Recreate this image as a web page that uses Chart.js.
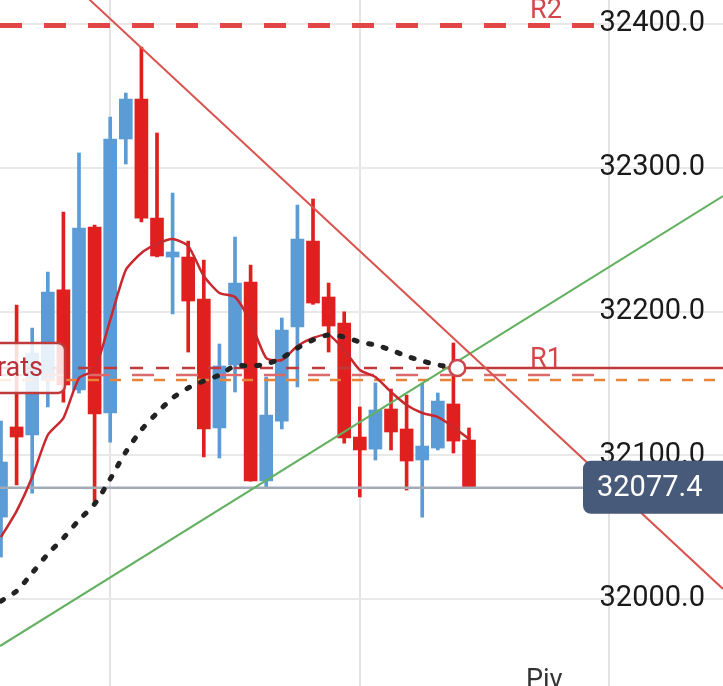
<!DOCTYPE html>
<html>
<head>
<meta charset="utf-8">
<script src="https://cdn.jsdelivr.net/npm/chart.js@4.4.1/dist/chart.umd.min.js"></script>
<style>
  html, body { margin: 0; padding: 0; background: #fff; overflow: hidden; }
  canvas { display: block; }
</style>
</head>
<body>
<canvas id="chart" width="723" height="686"></canvas>
<script>
// candles, one per bar index 0..30
const opens  = [32057.0, 32119.7, 32114.1, 32152.3, 32215.0, 32145.4, 32258.8, 32129.4, 32320.0, 32347.8,
                32265.0, 32237.9, 32237.9, 32208.7, 32119.0, 32162.8, 32220.5, 32082.1, 32123.8, 32189.2,
                32249.0, 32210.1, 32192.0, 32112.7, 32104.3, 32132.2, 32118.3, 32096.7, 32105.0, 32135.7, 32110.6];
const highs  = [32123.8, 32204.5, 32188.5, 32227.5, 32269.2, 32310.3, 32260.2, 32335.3, 32352.0, 32384.0,
                32324.2, 32282.4, 32249.0, 32235.8, 32177.4, 32251.8, 32232.3, 32154.4, 32195.5, 32274.1,
                32278.3, 32219.8, 32199.7, 32133.6, 32150.3, 32146.1, 32141.9, 32150.3, 32143.3, 32178.1, 32119.0];
const lows   = [32029.2, 32079.3, 32073.7, 32133.6, 32137.0, 32143.3, 32065.4, 32109.2, 32302.6, 32262.3,
                32238.0, 32198.3, 32171.8, 32098.8, 32098.1, 32144.0, 32082.0, 32077.9, 32118.3, 32147.5,
                32205.0, 32171.8, 32108.5, 32071.0, 32096.7, 32103.7, 32075.8, 32057.0, 32103.7, 32101.6, 32077.4];
const closes = [32095.3, 32112.7, 32171.1, 32213.6, 32148.9, 32258.1, 32128.7, 32320.0, 32347.8, 32265.0,
                32238.6, 32241.4, 32207.3, 32118.3, 32162.1, 32219.8, 32082.1, 32128.0, 32187.1, 32250.4,
                32205.9, 32189.9, 32112.0, 32103.7, 32131.5, 32116.2, 32096.0, 32106.4, 32137.7, 32109.9, 32077.4];

// moving averages
const maRed  = [32043.1, 32061.2, 32084.9, 32114.1, 32125.9, 32153.7, 32159.3, 32194.1, 32228.9, 32240.7,
                32247.0, 32250.4, 32245.6, 32224.7, 32212.9, 32210.1, 32192.7, 32167.7, 32166.3, 32176.0,
                32181.6, 32183.7, 32173.2, 32159.3, 32154.4, 32144.0, 32135.0, 32129.4, 32126.6, 32119.7, 32111.3];
const maDots = [31998.6, 32005.6, 32018.1, 32031.3, 32042.4, 32055.0, 32066.1, 32083.5, 32102.3, 32117.6,
                32129.4, 32139.8, 32146.8, 32151.7, 32155.8, 32162.1, 32162.1, 32163.5, 32167.7, 32174.6,
                32180.2, 32183.7, 32182.3, 32178.8, 32176.7, 32173.2, 32169.0, 32165.6, 32162.8, 32161.4];

// levels and trend lines
const lastPrice = 32077.4;
const levelR2 = 32399.0;
const levelR1 = 32160.7;
const levelPink = 32155.8;
const levelOrange = 32152.3;
const levelPiv = 31933.2;
const markerX = 29.25;
const trendRed = [32474.9, 32007.0];
const trendGreen = [31967.3, 32280.3];

const yTicks = [32000, 32100, 32200, 32300, 32400];
const xGrid = [7, 23, 39];
const xMin = -0.064, xMax = 46.28, yMin = 31939.5, yMax = 32416.7;

const BLUE = '#5b9bd6', RED = '#e0201e';
const candleColor = closes.map((c, i) => c >= opens[i] ? BLUE : RED);

const overlay = {
  id: 'overlay',
  afterDatasetsDraw(chart) {
    const { ctx, scales: { x, y } } = chart;
    ctx.save();

    // "rats" callout
    const ly = y.getPixelForValue(levelR1);
    ctx.beginPath();
    ctx.roundRect(-12, ly - 25, 77, 50, 7);
    ctx.fillStyle = 'rgba(255,255,255,0.85)';
    ctx.fill();
    ctx.lineWidth = 2.5;
    ctx.strokeStyle = '#c0393b';
    ctx.stroke();
    ctx.font = '27px Roboto';
    ctx.fillStyle = '#b8303a';
    ctx.textAlign = 'right';
    ctx.textBaseline = 'middle';
    ctx.fillText('rats', 43, ly + 1);

    // level names
    ctx.textAlign = 'left';
    ctx.textBaseline = 'alphabetic';
    ctx.fillStyle = '#d4464a';
    ctx.fillText('R2', 530, y.getPixelForValue(levelR2) - 7);
    ctx.fillText('R1', 530, y.getPixelForValue(levelR1) - 1);
    ctx.fillStyle = '#333';
    ctx.fillText('Piv', 526, y.getPixelForValue(levelPiv) - 7);

    // last price tag
    const py = y.getPixelForValue(lastPrice);
    ctx.beginPath();
    ctx.roundRect(583, py - 27, 150, 53, 8);
    ctx.fillStyle = '#475a7a';
    ctx.fill();
    ctx.font = '29px Roboto';
    ctx.fillStyle = '#fff';
    ctx.textBaseline = 'middle';
    ctx.fillText(lastPrice.toFixed(1), 597, py + 1);

    ctx.restore();
  }
};

const flat = (v, x0 = xMin, x1 = xMax) => [{ x: x0, y: v }, { x: x1, y: v }];

new Chart(document.getElementById('chart'), {
  type: 'bar',
  data: {
    datasets: [
      { type: 'line', order: 1, data: [{ x: markerX, y: levelR1 }], showLine: false,
        pointRadius: 8, pointBackgroundColor: '#fff', pointBorderColor: '#c9474a', pointBorderWidth: 2.5 },
      { type: 'line', order: 2, data: maDots.map((v, i) => ({ x: i, y: v })).concat([{ x: markerX, y: levelR1 }]),
        borderColor: '#222', borderWidth: 5, borderDash: [3, 12], borderCapStyle: 'round',
        tension: 0.3, pointRadius: 0 },
      { type: 'line', order: 3, data: maRed.map((v, i) => ({ x: i, y: v })),
        borderColor: '#c8282e', borderWidth: 2.5, tension: 0.2, pointRadius: 0 },
      { type: 'line', order: 4, data: [{ x: xMin, y: trendRed[0] }, { x: xMax, y: trendRed[1] }],
        borderColor: '#d9544f', borderWidth: 2, pointRadius: 0 },
      { type: 'line', order: 4, data: [{ x: xMin, y: trendGreen[0] }, { x: xMax, y: trendGreen[1] }],
        borderColor: '#63b160', borderWidth: 2, pointRadius: 0 },
      { type: 'line', order: 5, data: [{ x: xMin, y: levelR1 }, { x: markerX, y: levelR1 }, { x: xMax, y: levelR1 }],
        borderColor: '#c0393b', borderWidth: 2.5, pointRadius: 0,
        segment: { borderDash: c => c.p0DataIndex === 0 ? [13, 13] : [] } },
      { type: 'line', order: 5, data: flat(levelPink, xMin, 38.2),
        borderColor: '#dc6a6b', borderWidth: 2.5, borderDash: [22, 22], pointRadius: 0 },
      { type: 'line', order: 5, data: flat(levelOrange),
        borderColor: '#e8833a', borderWidth: 2.5, borderDash: [11, 11], pointRadius: 0 },
      { type: 'line', order: 5, data: flat(levelR2, xMin, 38.08),
        borderColor: '#e04646', borderWidth: 5, borderDash: [22, 22], pointRadius: 0 },
      { type: 'line', order: 6, data: flat(lastPrice),
        borderColor: '#a3abb7', borderWidth: 2.5, pointRadius: 0 },
      { order: 10, grouped: false, barThickness: 13, borderWidth: 0,
        data: opens.map((o, i) => ({ x: i, y: [o, closes[i]] })), backgroundColor: candleColor },
      { order: 11, grouped: false, barThickness: 3, borderWidth: 0,
        data: highs.map((h, i) => ({ x: i, y: [lows[i], h] })), backgroundColor: candleColor }
    ]
  },
  options: {
    responsive: false,
    animation: false,
    layout: { padding: 0, autoPadding: false },
    plugins: { legend: { display: false }, tooltip: { enabled: false } },
    scales: {
      x: {
        type: 'linear', min: xMin, max: xMax, offset: false,
        grid: { color: '#e4e4e4', lineWidth: 2, drawTicks: false, offset: false },
        border: { display: false },
        ticks: { display: false },
        afterBuildTicks: s => { s.ticks = xGrid.map(v => ({ value: v })); },
        afterFit: s => { s.height = 0; s.paddingLeft = 0; s.paddingRight = 0; s.paddingTop = 0; s.paddingBottom = 0; }
      },
      y: {
        position: 'right', min: yMin, max: yMax,
        grid: { color: '#e9e9e9', lineWidth: 2, drawTicks: false },
        border: { display: false },
        ticks: { mirror: true, padding: -18, color: '#1a1a1a', font: { family: 'Roboto', size: 29 },
                 callback: v => v.toFixed(1) },
        afterBuildTicks: s => { s.ticks = yTicks.map(v => ({ value: v })); },
        afterFit: s => { s.width = 0; s.paddingLeft = 0; s.paddingRight = 0; s.paddingTop = 0; s.paddingBottom = 0; }
      }
    }
  },
  plugins: [overlay]
});
</script>
</body>
</html>
